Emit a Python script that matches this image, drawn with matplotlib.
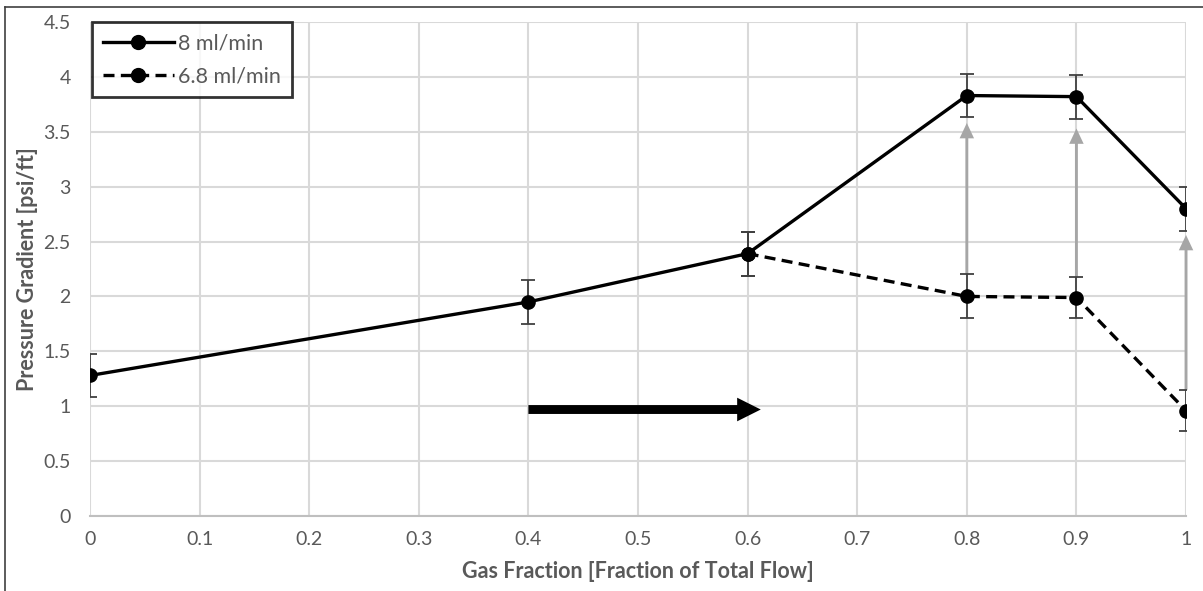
import matplotlib
matplotlib.use("Agg")
import matplotlib.pyplot as plt

plt.rcParams['font.family'] = ['Lato', 'DejaVu Sans']

# gas fraction vs pressure gradient
gas_8 = [0.0, 0.4, 0.6, 0.8, 0.9, 1.0]
dp_8 = [1.28, 1.95, 2.39, 3.83, 3.82, 2.80]
err_8 = [0.2, 0.2, 0.2, 0.2, 0.2, 0.2]

gas_68 = [0.6, 0.8, 0.9, 1.0]
dp_68 = [2.39, 2.00, 1.99, 0.96]
err_68 = [0.2, 0.2, 0.19, 0.19]

# gray arrows going from the 6.8 bars up to the 8 bars
up_x = [0.8, 0.9, 1.0]
up_from = [2.20, 2.18, 1.15]
up_to = [3.58, 3.53, 2.56]

# black arrow
flow_arrow_x = [0.4, 0.612]
flow_arrow_y = 0.97

xticks = [0, 0.1, 0.2, 0.3, 0.4, 0.5, 0.6, 0.7, 0.8, 0.9, 1]
xtick_labels = ['0', '0.1', '0.2', '0.3', '0.4', '0.5', '0.6', '0.7', '0.8', '0.9', '1']
yticks = [0, 0.5, 1, 1.5, 2, 2.5, 3, 3.5, 4, 4.5]
ytick_labels = ['0', '0.5', '1', '1.5', '2', '2.5', '3', '3.5', '4', '4.5']

txt = '#595959'
grid = '#d9d9d9'

fig = plt.figure(figsize=(12.03, 5.91), dpi=100)
ax = fig.add_axes([0.0748, 0.1269, 0.9111, 0.8359])

# frame round the whole picture (only top and left show)
fig.add_artist(plt.Line2D([5/1203, 5/1203], [0, 1 - 7/591], transform=fig.transFigure, color='#404040', lw=1.2))
fig.add_artist(plt.Line2D([5/1203, 1], [1 - 7/591, 1 - 7/591], transform=fig.transFigure, color='#404040', lw=1.2))

for x, y0, y1 in zip(up_x, up_from, up_to):
    ax.annotate('', xy=(x, y1), xytext=(x, y0),
                arrowprops=dict(arrowstyle='simple,head_length=0.85,head_width=0.8,tail_width=0.16',
                                color='#a6a6a6', lw=0, mutation_scale=13,
                                shrinkA=0, shrinkB=0), zorder=3)

ax.errorbar(gas_8, dp_8, yerr=err_8, fmt='none', ecolor='#404040', elinewidth=1.3, capsize=5, capthick=1.3, zorder=4)
ax.errorbar(gas_68, dp_68, yerr=err_68, fmt='none', ecolor='#404040', elinewidth=1.3, capsize=5, capthick=1.3, zorder=4)

ax.plot(gas_8, dp_8, '-', color='black', lw=2.4, marker='o', ms=9.5, label='8 ml/min', zorder=5)
ax.plot(gas_68, dp_68, color='black', lw=2.4, ls=(0, (3.3, 1.9)), marker='o', ms=9.5, label='6.8 ml/min', zorder=5)

ax.annotate('', xy=(flow_arrow_x[1], flow_arrow_y), xytext=(flow_arrow_x[0], flow_arrow_y),
            arrowprops=dict(arrowstyle='simple,head_length=0.85,head_width=0.85,tail_width=0.32',
                            color='black', lw=0, mutation_scale=20,
                            shrinkA=0, shrinkB=0), zorder=6)

ax.set_xlim(0, 1)
ax.set_ylim(0, 4.5)
ax.set_xticks(xticks)
ax.set_xticklabels(xtick_labels)
ax.set_yticks(yticks)
ax.set_yticklabels(ytick_labels)
ax.grid(True, color=grid, lw=1.5)
ax.set_axisbelow(True)
for s in ['left', 'right', 'top']:
    ax.spines[s].set_visible(False)
ax.spines['bottom'].set_color('#bfbfbf')
ax.spines['bottom'].set_linewidth(1.5)
ax.tick_params(axis='both', length=0, labelsize=14, colors=txt)
ax.tick_params(axis='x', pad=11)
ax.tick_params(axis='y', pad=14)

ax.set_xlabel('Gas Fraction [Fraction of Total Flow]', fontsize=15.5, fontweight='bold', color=txt, labelpad=9)
ax.set_ylabel('Pressure Gradient [psi/ft]', fontsize=15.5, fontweight='bold', color=txt, labelpad=4)

leg = ax.legend(loc='upper left', bbox_to_anchor=(0.002, 0.999), fontsize=15.5, frameon=True,
                fancybox=False, edgecolor='black', handlelength=3.3, borderpad=0.5,
                labelspacing=0.6, handletextpad=0.2, borderaxespad=0, markerscale=1.05)
leg.get_frame().set_linewidth(2.0)
for t in leg.get_texts():
    t.set_color(txt)

fig.savefig('out.png', dpi=100)
